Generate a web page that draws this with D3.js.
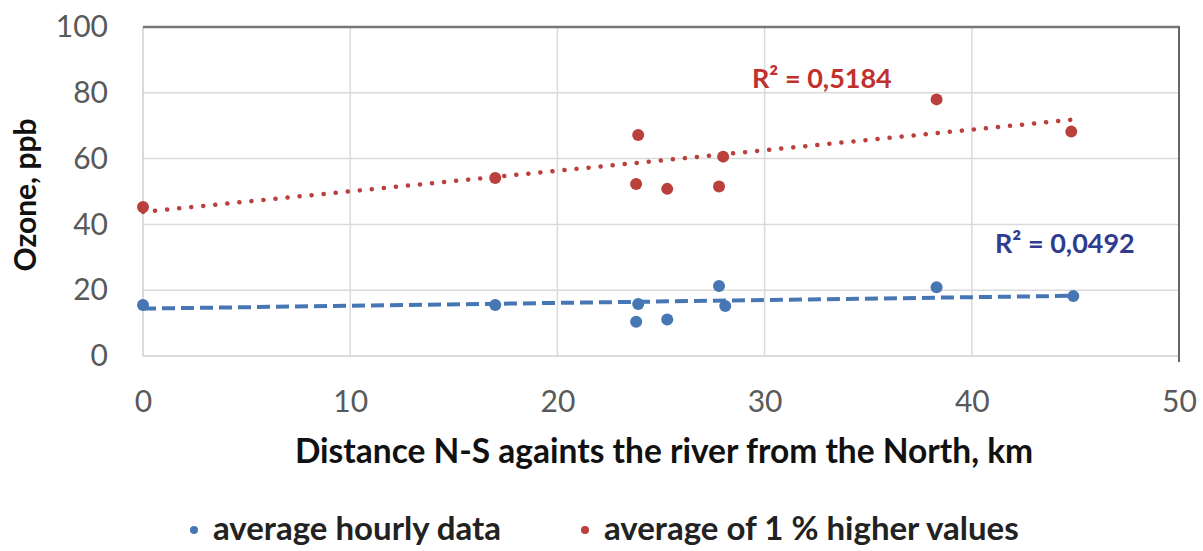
<!DOCTYPE html>
<html><head><meta charset="utf-8">
<script src="https://cdn.jsdelivr.net/npm/d3@7"></script>
<style>body{margin:0;background:#fff}svg{display:block}</style>
</head><body>
<svg id="c" width="1203" height="551"></svg>
<script>
// Data
const hourlyX = [0, 17, 23.9, 23.8, 25.3, 27.8, 28.1, 38.3, 44.9];
const hourlyY = [15.5, 15.5, 15.8, 10.4, 11.1, 21.3, 15.2, 20.9, 18.2];
const highX = [0, 17, 23.9, 23.8, 25.3, 27.8, 28.0, 38.3, 44.8];
const highY = [45.3, 54.1, 67.2, 52.3, 50.8, 51.5, 60.6, 78.0, 68.2];
// linear trendlines (end points)
const hourlyTrendX = [0, 44.9];
const hourlyTrendY = [14.4, 18.3];
const highTrendX = [0, 44.8];
const highTrendY = [43.8, 71.8];
const xTicks = [0, 10, 20, 30, 40, 50];
const yTicks = [0, 20, 40, 60, 80, 100];
const seriesNames = ["average hourly data", "average of 1 % higher values"];
const r2Labels = ["R\u00B2 = 0,0492", "R\u00B2 = 0,5184"];

const svg = d3.select("#c");
const L = 143, R = 1179, T = 27, B = 356;
const x = d3.scaleLinear().domain([0, 50]).range([L, R]);
const y = d3.scaleLinear().domain([0, 100]).range([B, T]);
const blue = "#4677b4", red = "#b9403d";
const font = "Lato, 'Open Sans', sans-serif";

// grid
svg.append("g").selectAll("line").data(xTicks.filter(d => d > 0 && d < 50)).join("line")
  .attr("x1", d => x(d)).attr("x2", d => x(d)).attr("y1", T).attr("y2", B)
  .attr("stroke", "#dadada").attr("stroke-width", 1.5);
svg.append("g").selectAll("line").data(yTicks.filter(d => d > 0 && d < 100)).join("line")
  .attr("x1", L).attr("x2", R).attr("y1", d => y(d)).attr("y2", d => y(d))
  .attr("stroke", "#dadada").attr("stroke-width", 1.5);
// frame: left/bottom light, top/right dark
svg.append("line").attr("x1", L).attr("x2", L).attr("y1", T).attr("y2", B).attr("stroke", "#cfcfcf").attr("stroke-width", 1.5);
svg.append("line").attr("x1", L).attr("x2", R).attr("y1", B).attr("y2", B).attr("stroke", "#cfcfcf").attr("stroke-width", 1.5);
svg.append("line").attr("x1", L).attr("x2", R).attr("y1", y(100)).attr("y2", y(100)).attr("stroke", "#777").attr("stroke-width", 2.5);
svg.append("line").attr("x1", R).attr("x2", R).attr("y1", y(100) - 1).attr("y2", B + 6).attr("stroke", "#666").attr("stroke-width", 2);

// axes
const xAxis = svg.append("g").attr("transform", `translate(0,${B})`)
  .call(d3.axisBottom(x).tickValues(xTicks).tickSize(0).tickPadding(35));
const yAxis = svg.append("g").attr("transform", `translate(${L},0)`)
  .call(d3.axisLeft(y).tickValues(yTicks).tickSize(0).tickPadding(35));
[xAxis, yAxis].forEach(g => {
  g.select(".domain").remove();
  g.selectAll("text").attr("font-family", font).attr("font-size", 30).attr("fill", "#595959");
});

// trendlines
function trend(xs, ys, color, dash, cap, w) {
  svg.append("line").attr("x1", x(xs[0])).attr("x2", x(xs[1]))
    .attr("y1", y(ys[0])).attr("y2", y(ys[1]))
    .attr("stroke", color).attr("stroke-width", w)
    .attr("stroke-dasharray", dash).attr("stroke-linecap", cap);
}
trend(highTrendX, highTrendY, red, "0.1 12", "round", 4.5);
trend(hourlyTrendX, hourlyTrendY, blue, "13 6", "butt", 4);

// points
function pts(xs, ys, color) {
  svg.append("g").selectAll("circle").data(xs.map((v, i) => [v, ys[i]])).join("circle")
    .attr("cx", d => x(d[0])).attr("cy", d => y(d[1])).attr("r", 6).attr("fill", color);
}
pts(hourlyX, hourlyY, blue);
pts(highX, highY, red);

// R2 labels
svg.append("text").attr("x", 752).attr("y", 88).text(r2Labels[1])
  .attr("font-family", font).attr("font-weight", 700).attr("font-size", 27).attr("fill", "#c0302c");
svg.append("text").attr("x", 995).attr("y", 253).text(r2Labels[0])
  .attr("font-family", font).attr("font-weight", 700).attr("font-size", 27).attr("fill", "#2f3c8f");

// axis titles
svg.append("text").attr("transform", "translate(36,195) rotate(-90)").attr("text-anchor", "middle")
  .text("Ozone, ppb").attr("font-family", font).attr("font-weight", 700).attr("font-size", 30).attr("fill", "#111");
svg.append("text").attr("x", 664).attr("y", 463).attr("text-anchor", "middle")
  .text("Distance N-S againts the river from the North, km")
  .attr("font-family", font).attr("font-weight", 700).attr("font-size", 33.5).attr("fill", "#111");

// legend
const lg = [[194, blue, seriesNames[0]], [585, red, seriesNames[1]]];
lg.forEach(([lx, c, t]) => {
  svg.append("circle").attr("cx", lx).attr("cy", 530).attr("r", 4).attr("fill", c);
  svg.append("text").attr("x", lx + 19).attr("y", 540).text(t)
    .attr("font-family", font).attr("font-weight", 700).attr("font-size", 33).attr("fill", "#222");
});
</script>
</body></html>
